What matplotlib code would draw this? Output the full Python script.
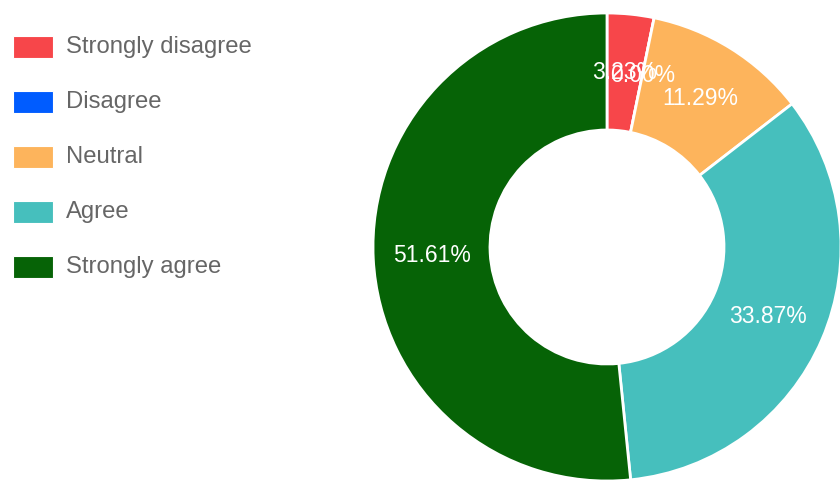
import matplotlib.pyplot as plt
from matplotlib.patches import Rectangle

labels = ["Strongly disagree", "Disagree", "Neutral", "Agree", "Strongly agree"]
values = [3.23, 0.00, 11.29, 33.87, 51.61]
colors = ["#f7464a", "#005cff", "#fdb45c", "#46bfbd", "#066306"]

plt.rcParams['font.family'] = ['Liberation Sans', 'DejaVu Sans']

fig = plt.figure(figsize=(8.4, 4.84), dpi=100)
ax = fig.add_axes([0, 0, 1, 1])

# pie in pixel-like coordinates (y up)
wedges, texts, autotexts = ax.pie(
    values, colors=colors, startangle=90, counterclock=False,
    radius=234, center=(607, 237),
    wedgeprops=dict(width=117, edgecolor="white", linewidth=2),
    autopct="%1.2f%%", pctdistance=0.75,
    textprops=dict(color="white", fontsize=16.5))

# legend drawn by hand
for i, (lab, col) in enumerate(zip(labels, colors)):
    yc = 484 - (47 + 55 * i)
    ax.add_patch(Rectangle((13, yc - 11), 40, 22, facecolor=col,
                           edgecolor="white", linewidth=0.8))
    ax.text(66, yc, lab, color="#666666", fontsize=17.2, va="center", ha="left")

ax.set_xlim(0, 840)
ax.set_ylim(0, 484)
ax.set_aspect("equal")
ax.axis("off")

fig.savefig("out.png", dpi=100)
